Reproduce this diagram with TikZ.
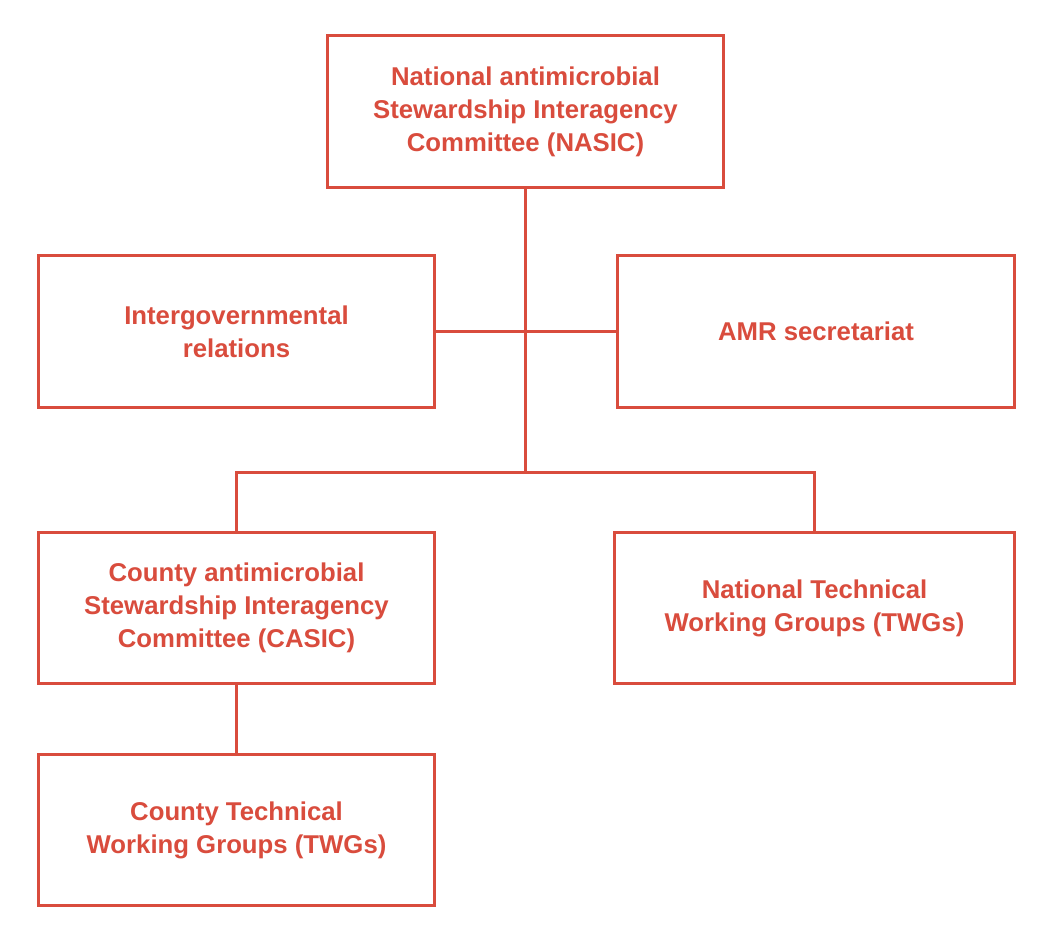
\documentclass[tikz,border=0pt]{standalone}
\usepackage{fontspec}
\setmainfont{Liberation Sans}
\usetikzlibrary{positioning}
\definecolor{brick}{HTML}{D94C3D}

\begin{document}
\begin{tikzpicture}[
 x=0.025cm,y=-0.025cm,
 box/.style={draw=brick,line width=2.1pt,fill=white,minimum width=9.9cm,minimum height=3.78cm,align=center,text=brick,font=\fontsize{18.3}{23.5}\selectfont\bfseries},
 link/.style={draw=brick,line width=2.1pt}
]
\useasboundingbox (0,0) rectangle (1058,946);
\node[box] (nasic) at (525.5,111.5) {National antimicrobial\\Stewardship Interagency\\Committee (NASIC)};
\node[box] (igr) at (236.5,331.5) {Intergovernmental\\relations};
\node[box] (amr) at (816,331.5) {AMR secretariat};
\node[box] (casic) at (236.5,608) {County antimicrobial\\Stewardship Interagency\\Committee (CASIC)};
\node[box,minimum width=10cm] (ntwg) at (814.5,608) {National Technical\\Working Groups (TWGs)};
\node[box] (ctwg) at (236.5,830) {County Technical\\Working Groups (TWGs)};
\coordinate (hub) at (525.5,472.5);
\draw[link] (nasic.south) -- (hub);
\draw[link] (igr.east) -- (amr.west);
\draw[link] (hub) -| (casic.north);
\draw[link] (hub) -| (ntwg.north);
\draw[link] (casic.south) -- (ctwg.north);
\end{tikzpicture}
\end{document}
